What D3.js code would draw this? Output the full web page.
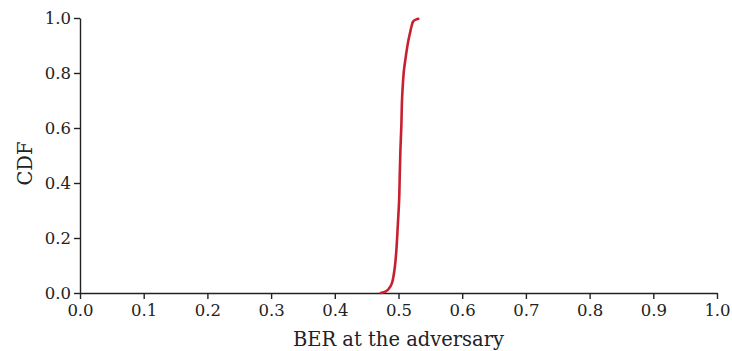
<!DOCTYPE html>
<html>
<head>
<meta charset="utf-8">
<script src="https://cdn.jsdelivr.net/npm/d3@7"></script>
<style>
  html, body { margin: 0; padding: 0; background: #fff; }
  svg text { font-family: "DejaVu Serif", "Liberation Serif", serif; fill: #222; }
</style>
</head>
<body>
<svg id="chart" width="732" height="351"></svg>
<script>
// Empirical CDF of the bit error rate seen by the adversary
const berValues = [0.472, 0.480, 0.487, 0.490, 0.492, 0.495, 0.497, 0.499, 0.501, 0.502, 0.503, 0.5045, 0.5055, 0.507, 0.5086, 0.511, 0.513, 0.5155, 0.518, 0.5205, 0.523, 0.527, 0.531];
const cdfValues = [0.000, 0.006, 0.023, 0.038, 0.059, 0.110, 0.168, 0.250, 0.338, 0.430, 0.520, 0.610, 0.700, 0.765, 0.811, 0.852, 0.884, 0.918, 0.945, 0.970, 0.987, 0.994, 0.997];
const xTicks = [0.0, 0.1, 0.2, 0.3, 0.4, 0.5, 0.6, 0.7, 0.8, 0.9, 1.0];
const yTicks = [0.0, 0.2, 0.4, 0.6, 0.8, 1.0];

const svg = d3.select("#chart");
const margin = { left: 80, right: 15, top: 18, bottom: 58 };
const W = 732, H = 351;

const x = d3.scaleLinear().domain([0, 1]).range([margin.left, W - margin.right]);
const y = d3.scaleLinear().domain([0, 1]).range([H - margin.bottom, margin.top]);

const xAxis = svg.append("g")
  .attr("transform", `translate(0,${H - margin.bottom})`)
  .call(d3.axisBottom(x).tickValues(xTicks).tickFormat(d3.format(".1f")).tickSize(6).tickSizeOuter(0));
const yAxis = svg.append("g")
  .attr("transform", `translate(${margin.left},0)`)
  .call(d3.axisLeft(y).tickValues(yTicks).tickFormat(d3.format(".1f")).tickSize(6).tickSizeOuter(0));

[xAxis, yAxis].forEach(g => {
  g.selectAll("path.domain").attr("stroke", "#222").attr("stroke-width", 1.4);
  g.selectAll(".tick line").attr("stroke", "#222").attr("stroke-width", 1.4);
  g.selectAll(".tick text").attr("font-size", 16.5).attr("font-family", "DejaVu Serif, serif").attr("fill", "#222");
});
xAxis.selectAll(".tick text").attr("dy", "0.85em");
yAxis.selectAll(".tick text").attr("x", -9);

const pts = berValues.map((v, i) => [v, cdfValues[i]]);
svg.append("path")
  .datum(pts)
  .attr("fill", "none")
  .attr("stroke", "#c8202f")
  .attr("stroke-width", 2.6)
  .attr("stroke-linecap", "round")
  .attr("d", d3.line().x(d => x(d[0])).y(d => y(d[1])).curve(d3.curveMonotoneY));

svg.append("text")
  .attr("x", (margin.left + W - margin.right) / 2)
  .attr("y", H - 5)
  .attr("text-anchor", "middle")
  .attr("font-size", 19.5)
  .text("BER at the adversary");

svg.append("text")
  .attr("transform", `translate(32,${(margin.top + H - margin.bottom) / 2 + 8}) rotate(-90)`)
  .attr("text-anchor", "middle")
  .attr("font-size", 19.5)
  .text("CDF");
</script>
</body>
</html>
